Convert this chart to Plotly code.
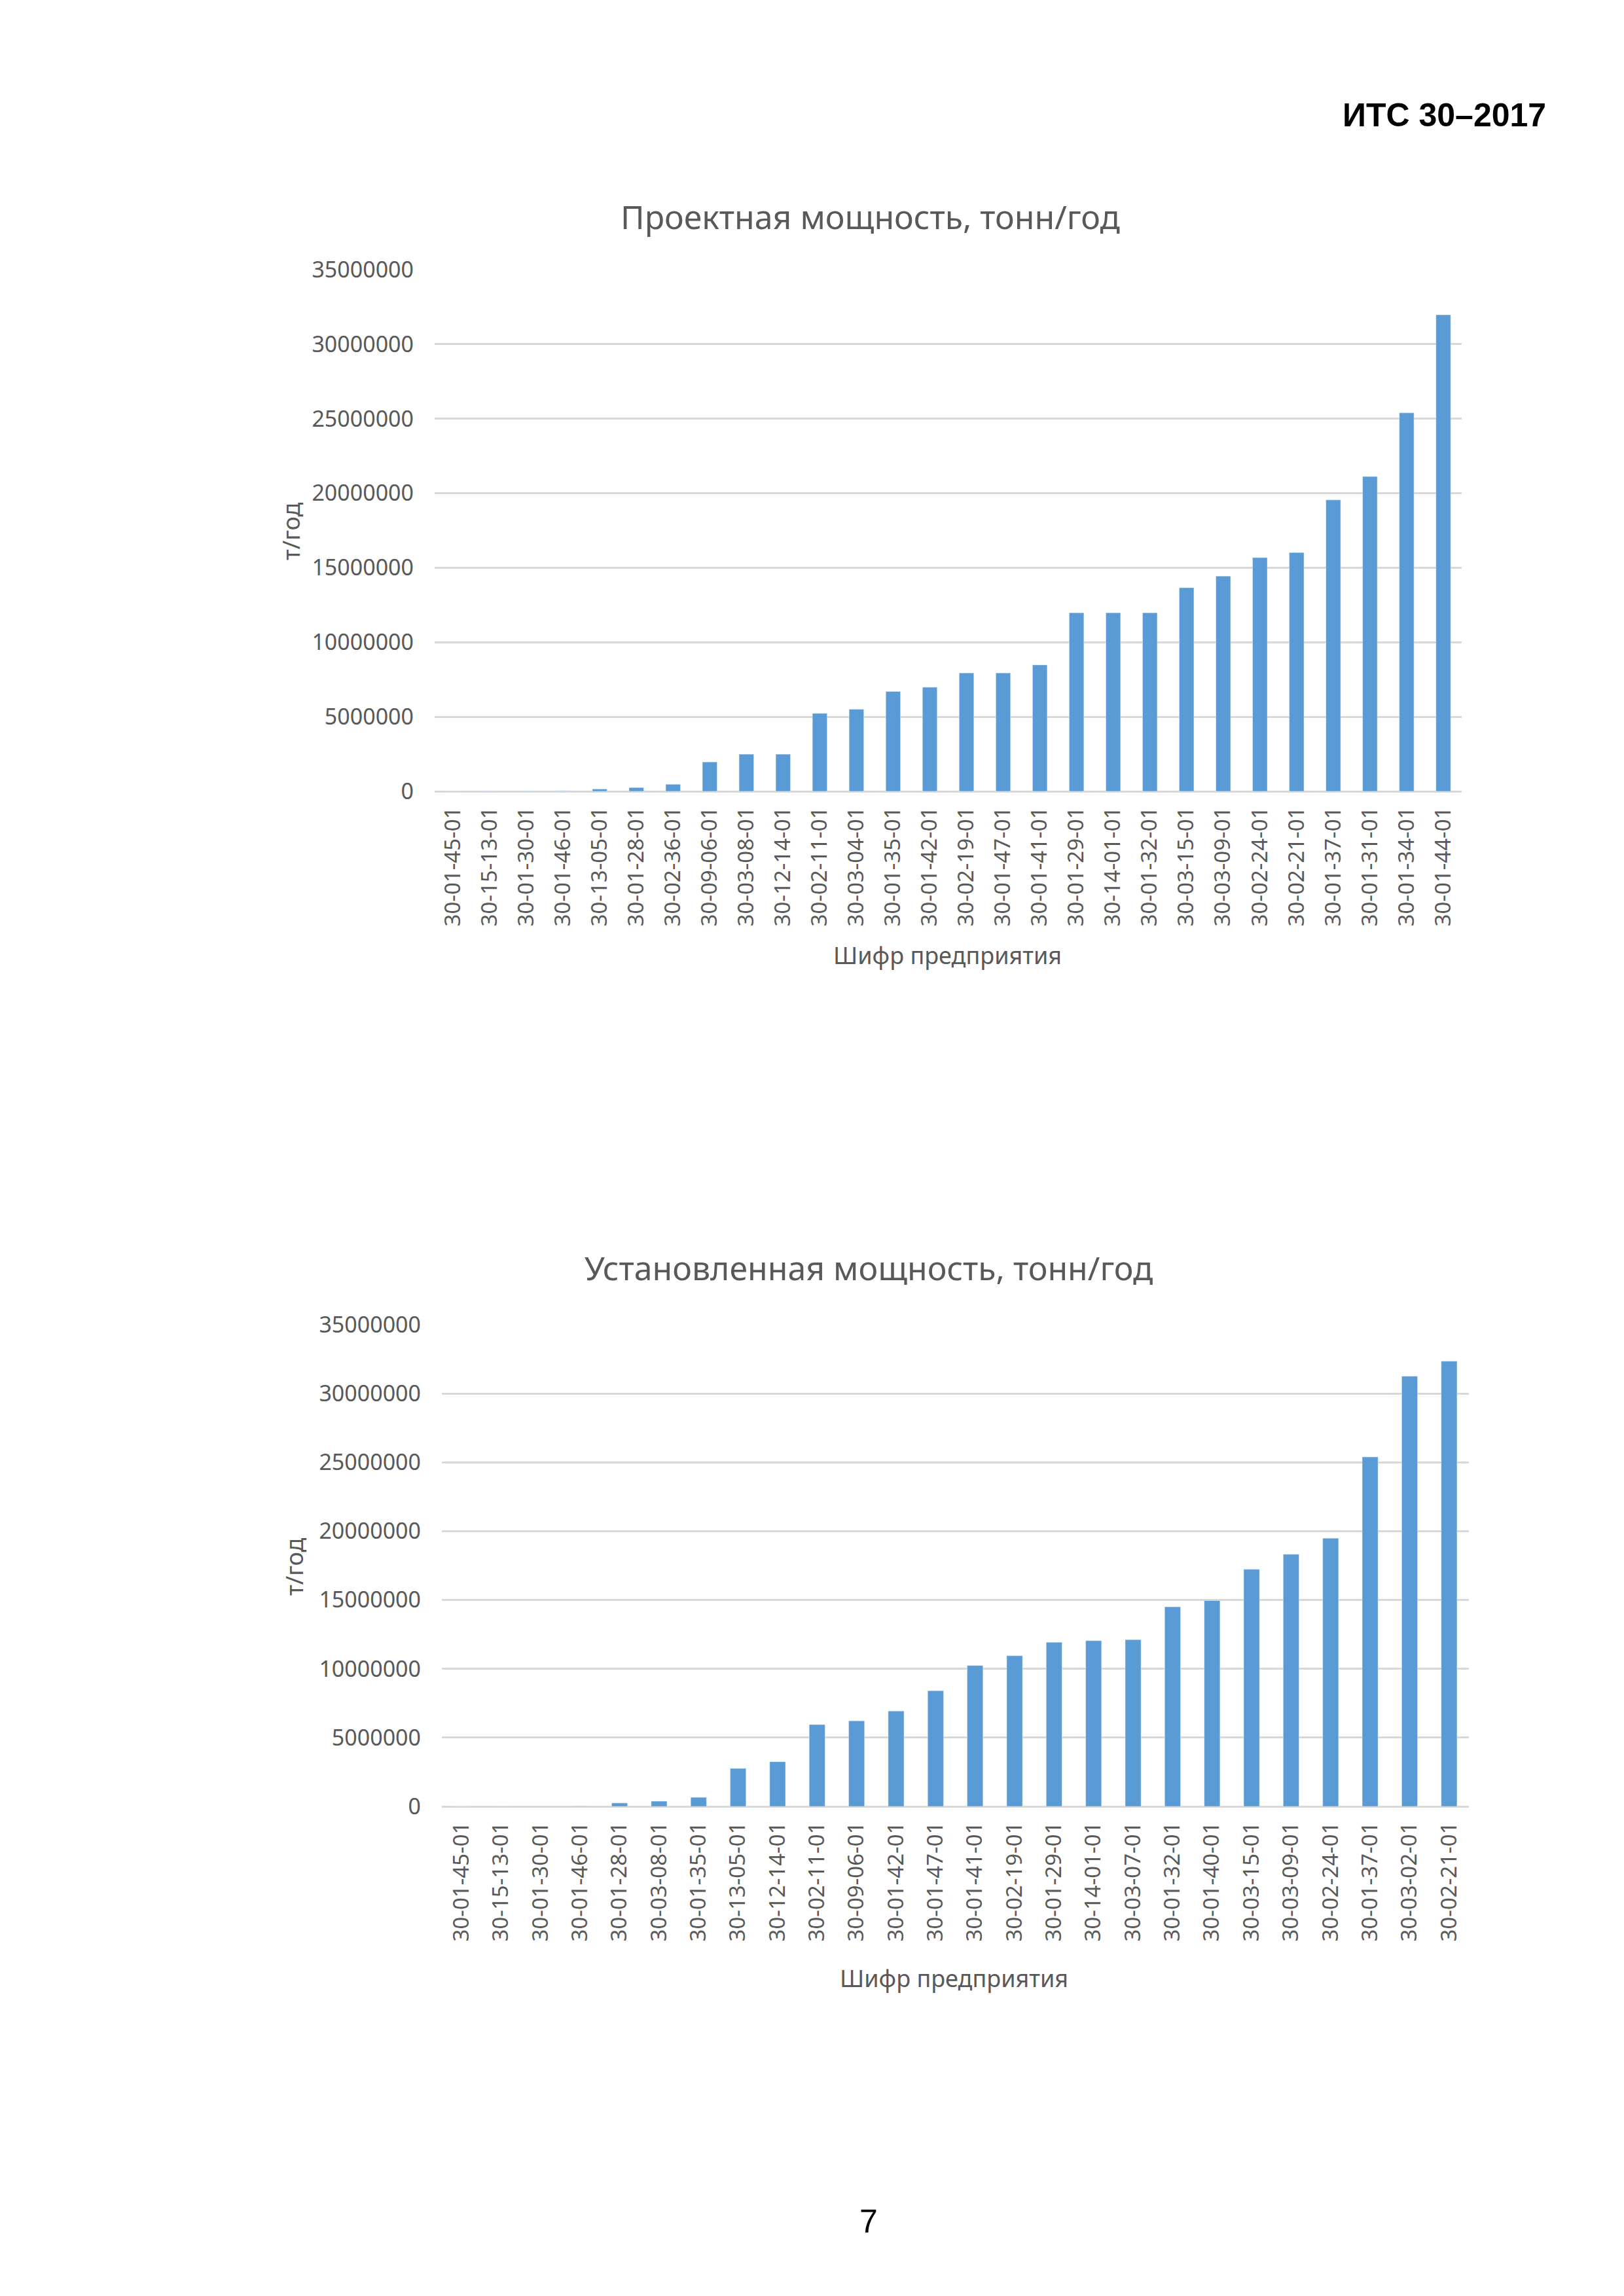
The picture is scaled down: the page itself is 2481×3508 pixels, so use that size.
import plotly.graph_objects as go

# Проектная мощность (верхняя диаграмма)
design_codes = ["30-01-45-01", "30-15-13-01", "30-01-30-01", "30-01-46-01", "30-13-05-01",
                "30-01-28-01", "30-02-36-01", "30-09-06-01", "30-03-08-01", "30-12-14-01",
                "30-02-11-01", "30-03-04-01", "30-01-35-01", "30-01-42-01", "30-02-19-01",
                "30-01-47-01", "30-01-41-01", "30-01-29-01", "30-14-01-01", "30-01-32-01",
                "30-03-15-01", "30-03-09-01", "30-02-24-01", "30-02-21-01", "30-01-37-01",
                "30-01-31-01", "30-01-34-01", "30-01-44-01"]
design_values = [3000, 10000, 15000, 30000, 150000,
                 250000, 470000, 1970000, 2490000, 2490000,
                 5230000, 5500000, 6700000, 6980000, 7940000,
                 7940000, 8480000, 11980000, 11980000, 11980000,
                 13660000, 14440000, 15680000, 16020000, 19550000,
                 21120000, 25390000, 31970000]

# Установленная мощность (нижняя диаграмма)
installed_codes = ["30-01-45-01", "30-15-13-01", "30-01-30-01", "30-01-46-01", "30-01-28-01",
                   "30-03-08-01", "30-01-35-01", "30-13-05-01", "30-12-14-01", "30-02-11-01",
                   "30-09-06-01", "30-01-42-01", "30-01-47-01", "30-01-41-01", "30-02-19-01",
                   "30-01-29-01", "30-14-01-01", "30-03-07-01", "30-01-32-01", "30-01-40-01",
                   "30-03-15-01", "30-03-09-01", "30-02-24-01", "30-01-37-01", "30-03-02-01",
                   "30-02-21-01"]
installed_values = [3000, 8000, 15000, 30000, 250000,
                    380000, 660000, 2760000, 3250000, 5950000,
                    6220000, 6930000, 8410000, 10240000, 10950000,
                    11930000, 12040000, 12120000, 14500000, 14960000,
                    17230000, 18320000, 19490000, 25390000, 31260000,
                    32350000]

y_ticks = [0, 5000000, 10000000, 15000000, 20000000, 25000000, 30000000, 35000000]

BAR = "#5B9BD5"
GREY = "#595959"
GRID = "#D9D9D9"
FONT = "Noto Sans"
W, H = 2481, 3508
OFF = 8  # body margin of the html page


def px_x(x):
    return (x - OFF) / W


def px_y(y):
    return (H - y + OFF) / H


fig = go.Figure()
fig.add_trace(go.Bar(x=design_codes, y=design_values, marker_color=BAR,
                     xaxis="x", yaxis="y", showlegend=False))
fig.add_trace(go.Bar(x=installed_codes, y=installed_values, marker_color=BAR,
                     xaxis="x2", yaxis="y2", showlegend=False))

xcommon = dict(type="category", tickangle=-90, showgrid=False, showline=False, automargin=False,
               ticks="", ticklabelstandoff=16, tickfont=dict(family=FONT, size=33, color=GREY))
ycommon = dict(range=[0, 35000000], tickvals=y_ticks, tickformat="d", showgrid=True,
               gridcolor=GRID, gridwidth=3, zeroline=True, zerolinecolor=GRID, zerolinewidth=3,
               showline=False, ticks="", ticklabelstandoff=31, automargin=False,
               tickfont=dict(family=FONT, size=34, color=GREY))

fig.update_layout(
    width=W, height=H,
    margin=dict(l=0, r=0, t=0, b=0),
    paper_bgcolor="white", plot_bgcolor="white",
    bargap=0.6,
    xaxis=dict(domain=[px_x(664), px_x(2233)], anchor="y", **xcommon),
    yaxis=dict(domain=[px_y(1209), px_y(412)], anchor="x", **ycommon),
    xaxis2=dict(domain=[px_x(675), px_x(2244)], anchor="y2", **xcommon),
    yaxis2=dict(domain=[px_y(2760), px_y(2024)], anchor="x2", **ycommon),
)

notes = [
    # заголовок страницы и номер
    dict(text="<b>ИТС 30–2017</b>", x=px_x(2364), y=px_y(176), xanchor="right",
         font=dict(family="Liberation Sans", size=50, color="black")),
    dict(text="7", x=px_x(1327), y=px_y(3394), xanchor="center",
         font=dict(family="Liberation Sans", size=50, color="black")),
    # верхняя диаграмма
    dict(text="Проектная мощность, тонн/год", x=px_x(1329), y=px_y(331), xanchor="center",
         font=dict(family=FONT, size=50, color=GREY)),
    dict(text="т/год", x=px_x(444), y=px_y(812), xanchor="center", textangle=-90,
         font=dict(family=FONT, size=36, color=GREY)),
    dict(text="Шифр предприятия", x=px_x(1447), y=px_y(1459), xanchor="center",
         font=dict(family=FONT, size=36, color=GREY)),
    # нижняя диаграмма
    dict(text="Установленная мощность, тонн/год", x=px_x(1327), y=px_y(1937), xanchor="center",
         font=dict(family=FONT, size=50, color=GREY)),
    dict(text="т/год", x=px_x(449), y=px_y(2394), xanchor="center", textangle=-90,
         font=dict(family=FONT, size=36, color=GREY)),
    dict(text="Шифр предприятия", x=px_x(1457), y=px_y(3022), xanchor="center",
         font=dict(family=FONT, size=36, color=GREY)),
]
for n in notes:
    fig.add_annotation(xref="paper", yref="paper", yanchor="middle", showarrow=False, **n)

fig.write_html("out.html")
